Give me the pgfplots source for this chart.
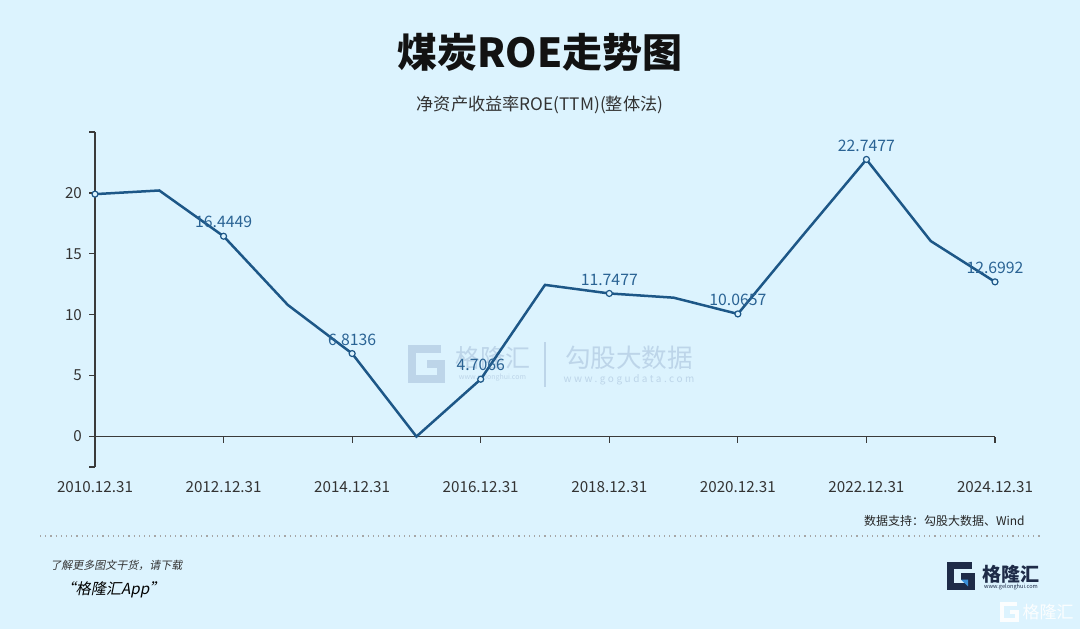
\documentclass[border=0pt]{standalone}
\usepackage{fontspec}
\setmainfont{Noto Sans CJK SC}
\newfontfamily\cjkit[FakeSlant=0.2]{Noto Sans CJK SC}
\newfontfamily\cjkspaced[LetterSpace=25]{Noto Sans CJK SC}
\usepackage{pgfplots}
\pgfplotsset{compat=1.18}
\definecolor{bg}{HTML}{DCF3FE}
\definecolor{line}{HTML}{1D5787}
\definecolor{lab}{HTML}{2A6394}
\definecolor{axisgray}{HTML}{3A3A3A}
\definecolor{labelgray}{HTML}{333333}
\definecolor{wm}{HTML}{BDD5E9}
\definecolor{navy}{HTML}{1E2B48}
\definecolor{gblue}{HTML}{3A8FD8}

\pgfplotstableread{
x y
2010 19.9
2011 20.2
2012 16.4449
2013 10.8
2014 6.8136
2015 0.0
2016 4.7066
2017 12.45
2018 11.7477
2019 11.4
2020 10.0657
2021 16.45
2022 22.7477
2023 16.05
2024 12.6992
}\roedata

\pgfplotstableread{
x y lab
2012 16.4449 16.4449
2014 6.8136 6.8136
2016 4.7066 4.7066
2018 11.7477 11.7477
2020 10.0657 10.0657
2022 22.7477 22.7477
2024 12.6992 12.6992
}\roelabels

\pgfplotstableread{
x y
2010 19.9
}\roefirst

\begin{document}
\begin{tikzpicture}[x=1pt,y=1pt]
\path[use as bounding box] (0,0) rectangle (540,314.5);
\fill[bg] (0,0) rectangle (540,314.5);

% watermark
\draw[wm, line width=4pt, line join=miter] (220.5,140) -- (206,140) -- (206,125) -- (220.5,125) -- (220.5,132.5) -- (213.5,132.5);
\node[text=wm, font=\fontsize{12.5}{14}\selectfont, inner sep=0pt] at (246.25,135.5) {格隆汇};
\node[text=wm, font=\fontsize{3.5}{4}\selectfont, inner sep=0pt] at (246.25,125.5) {www.gelonghui.com};
\draw[wm, line width=0.6pt] (272.5,143.5) -- (272.5,121);
\node[text=wm, font=\fontsize{12.8}{14}\selectfont, inner sep=0pt] at (314.5,135.5) {勾股大数据};
\node[text=wm, font=\cjkspaced\fontsize{5}{6}\selectfont, inner sep=0pt] at (314.5,124.5) {www.gogudata.com};

% titles
\node[font=\bfseries\fontsize{20}{22}\selectfont, text=black!93, inner sep=0pt] at (270,288.5) {煤炭ROE走势图};
\node[font=\fontsize{8.6}{10}\selectfont, text=labelgray, inner sep=0pt] at (270,262) {净资产收益率ROE(TTM)(整体法)};

\begin{axis}[
  at={(47.5pt,81pt)}, anchor=south west,
  scale only axis, width=450pt, height=167.5pt,
  xmin=2010, xmax=2024, ymin=-2.5, ymax=25,
  axis x line=middle, axis y line=left,
  hide obscured x ticks=false,
  axis line style={-, draw=axisgray, line width=0.7pt},
  xtick={2010,2012,...,2024},
  xticklabels={2010.12.31,2012.12.31,2014.12.31,2016.12.31,2018.12.31,2020.12.31,2022.12.31,2024.12.31},
  ytick={0,5,10,15,20,25},
  yticklabels={0,5,10,15,20,},
  extra y ticks={-2.5}, extra y tick labels={},
  tick align=outside,
  major tick length=3pt,
  tick style={draw=axisgray, line width=0.6pt},
  ticklabel style={font=\fontsize{7.6}{9}\selectfont, text=labelgray},
  xticklabel style={yshift=-16pt},
  /pgf/number format/assume math mode=true,
  clip=false,
]
\addplot[line, line width=1.25pt, no marks] table[x=x,y=y] {\roedata};
\addplot[only marks, mark=*, mark size=1.5pt, mark options={draw=line, fill=bg, line width=0.6pt}] table[x=x,y=y] {\roefirst};
\addplot[only marks, mark=*, mark size=1.5pt, mark options={draw=line, fill=bg, line width=0.6pt},
  point meta=explicit symbolic,
  nodes near coords,
  nodes near coords style={anchor=base, inner sep=0pt, yshift=4.2pt, text=lab, font=\fontsize{7.9}{9}\selectfont}]
  table[x=x,y=y,meta=lab] {\roelabels};
\end{axis}

% source and footer
\node[anchor=east, font=\fontsize{6}{7}\selectfont, text=black!85, inner sep=0pt] at (512.5,54) {数据支持：勾股大数据、Wind};
\draw[gray!70, line width=0.6pt, dotted] (20,46.5) -- (520,46.5);
\node[anchor=west, font=\cjkit\fontsize{5.5}{6.5}\selectfont, text=black!80, inner sep=0pt] at (25,32) {了解更多图文干货，请下载};
\node[anchor=west, font=\cjkit\fontsize{7.6}{9}\selectfont, text=black, inner sep=0pt] at (30,19.5) {“格隆汇App”};

% logo bottom right
\draw[navy, line width=3.5pt, line join=miter] (485.75,31.75) -- (475.25,31.75) -- (475.25,21.25) -- (485.75,21.25) -- (485.75,26.5) -- (480.5,26.5);
\fill[gblue] (480.5,24.7) -- (484,24.7) -- (484,21.3) -- cycle;
\node[font=\bfseries\fontsize{9.5}{11}\selectfont, text=navy, inner sep=0pt] at (505.5,27.5) {格隆汇};
\node[font=\fontsize{2.8}{3.2}\selectfont, text=navy, inner sep=0pt] at (505.5,20.8) {www.gelonghui.com};

% white watermark
\draw[white, line width=2pt, line join=miter, opacity=0.9] (508.5,12.5) -- (501,12.5) -- (501,4.5) -- (508.5,4.5) -- (508.5,8.5) -- (505,8.5);
\node[font=\fontsize{8.5}{10}\selectfont, text=white, opacity=0.9, inner sep=0pt] at (524,8.5) {格隆汇};
\end{tikzpicture}
\end{document}
